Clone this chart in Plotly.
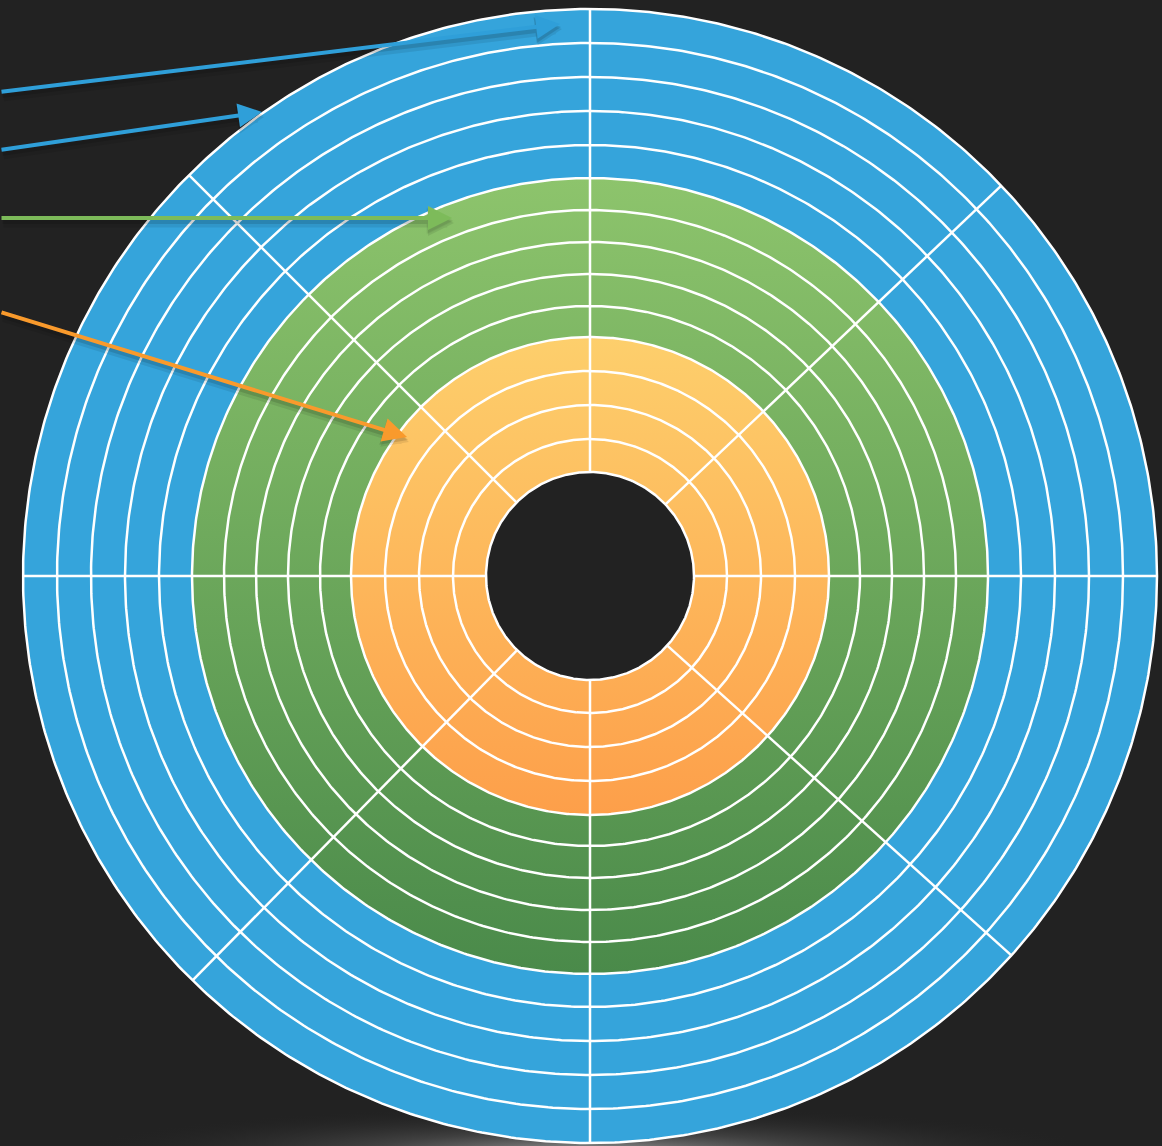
import numpy as np
import plotly.graph_objects as go

# ---- data -------------------------------------------------------------
zone_names = ["Outer zone", "Middle zone", "Inner zone"]
zone_tracks = [5, 5, 4]
# track boundary radii, outside -> inside (outer edge ... spindle hole)
track_radii = [567, 533, 499, 465, 431, 398, 366, 334, 302, 270, 239, 205, 171, 137, 104]
# sector divider angles (degrees, counter-clockwise from +x)
sector_angles = [0, 43.5, 90, 135, 180, 225.5, 270, 318]

# ---- styles -----------------------------------------------------------
BG = "#222222"
zone_fill = [
    dict(color="#35A4DB"),
    dict(grad=[[0, "#4A8A4A"], [1, "#8DC46C"]]),
    dict(grad=[[0, "#FD9F4A"], [1, "#FDCF6C"]]),
]
arrow_colors = ["#2F9FD9", "#2F9FD9", "#7DBB5A", "#F99A2C"]
# arrows: (tail x, tail y, tip x, tip y) in plot coordinates
arrow_tail = [(-590, 484), (-590, 426), (-590, 358), (-590, 264)]
arrow_tip = [(-30, 552), (-328, 464), (-138, 358), (-183, 139)]

t = np.linspace(0, 2 * np.pi, 721)


def circle(r, cx=0.0, cy=0.0, ry=None):
    ry = r if ry is None else ry
    return cx + r * np.cos(t), cy + ry * np.sin(t)


fig = go.Figure()

# bottom glow (reflection under the disk)
gx, gy = circle(520, 0, -578, ry=48)
fig.add_trace(go.Scatter(x=gx, y=gy, mode="lines", fill="toself", line=dict(width=0),
                         fillgradient=dict(type="radial",
                                           colorscale=[[0, "rgba(200,200,200,0.8)"],
                                                       [0.45, "rgba(120,120,120,0.35)"],
                                                       [1, "rgba(34,34,34,0)"]]),
                         hoverinfo="skip", showlegend=False))

# zone disks (stacked, outside first)
idx = 0
for zi, name in enumerate(zone_names):
    r_out = track_radii[idx]
    x, y = circle(r_out)
    f = zone_fill[zi]
    kw = dict(x=x, y=y, mode="lines", fill="toself", line=dict(width=0),
              name=name, hoverinfo="name", showlegend=False)
    if "grad" in f:
        kw["fillgradient"] = dict(type="vertical", colorscale=f["grad"])
    else:
        kw["fillcolor"] = f["color"]
    fig.add_trace(go.Scatter(**kw))
    idx += zone_tracks[zi]

# spindle hole
hx, hy = circle(track_radii[-1])
fig.add_trace(go.Scatter(x=hx, y=hy, mode="lines", fill="toself", fillcolor=BG,
                         line=dict(width=0), hoverinfo="skip", showlegend=False))

# track boundaries (white rings)
lx, ly = [], []
for r in track_radii:
    x, y = circle(r)
    lx += list(x) + [None]
    ly += list(y) + [None]
fig.add_trace(go.Scatter(x=lx, y=ly, mode="lines", line=dict(color="white", width=2.5),
                         hoverinfo="skip", showlegend=False))

# sector dividers
sx, sy = [], []
r0, r1 = track_radii[-1], track_radii[0]
for a in sector_angles:
    th = np.deg2rad(a)
    sx += [r0 * np.cos(th), r1 * np.cos(th), None]
    sy += [r0 * np.sin(th), r1 * np.sin(th), None]
fig.add_trace(go.Scatter(x=sx, y=sy, mode="lines", line=dict(color="white", width=2.5),
                         hoverinfo="skip", showlegend=False))

# arrows (with soft shadows)
annotations = []
for (tx, ty), (hx_, hy_), c in zip(arrow_tail, arrow_tip, arrow_colors):
    for dx, dy, col, w in [(2, -5, "rgba(0,0,0,0.08)", 9), (1, -3, "rgba(0,0,0,0.12)", 6)]:
        annotations.append(dict(x=hx_ + dx, y=hy_ + dy, ax=tx + dx, ay=ty + dy,
                                xref="x", yref="y", axref="x", ayref="y", text="",
                                showarrow=True, arrowhead=2, arrowsize=5.2 / w,
                                arrowwidth=w, arrowcolor=col, standoff=0))
    annotations.append(dict(x=hx_, y=hy_, ax=tx, ay=ty, xref="x", yref="y", axref="x",
                            ayref="y", text="", showarrow=True, arrowhead=2, arrowsize=1.2,
                            arrowwidth=4, arrowcolor=c, standoff=0))

fig.update_layout(
    width=1162, height=1146,
    margin=dict(l=0, r=0, t=0, b=0),
    paper_bgcolor=BG, plot_bgcolor=BG,
    xaxis=dict(range=[-590, 572], visible=False, fixedrange=True),
    yaxis=dict(range=[-570, 576], visible=False, fixedrange=True),
    annotations=annotations,
    showlegend=False,
)

fig.write_html("out.html", config={"displayModeBar": False},
               post_script="document.body.style.margin='0';document.body.style.background='#222222';")
